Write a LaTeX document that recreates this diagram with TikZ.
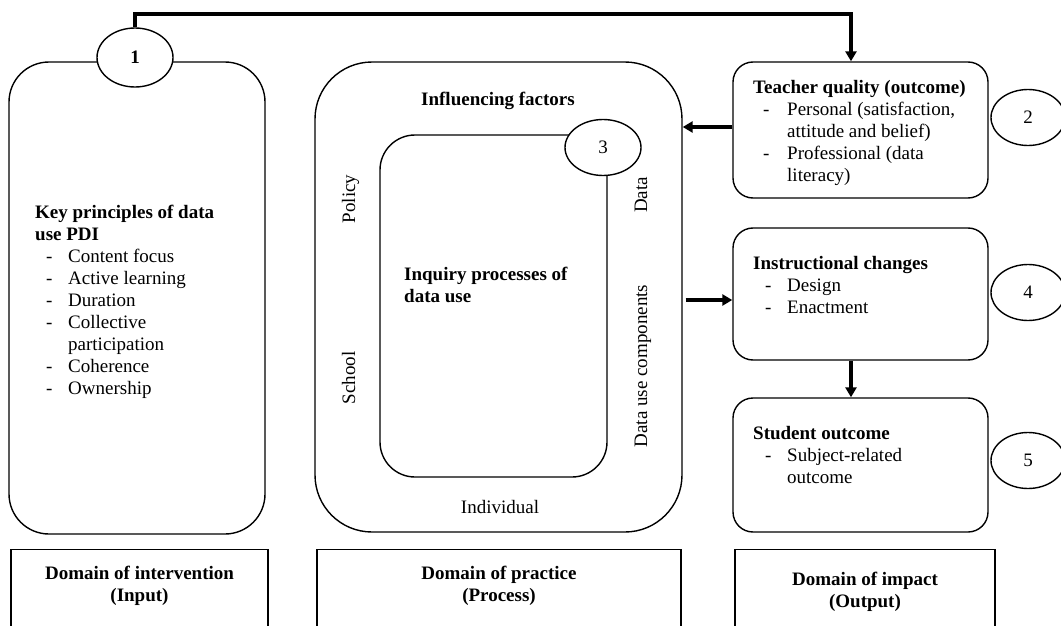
\documentclass[tikz,border=0pt]{standalone}
\usepackage{fontspec}
\setmainfont{Liberation Serif}
\usetikzlibrary{arrows.meta,shapes.geometric}
\newcommand{\lidash}{\makebox[33pt][l]{\hspace*{11pt}-}}
\newcommand{\lihang}{\hspace*{33pt}}
\begin{document}
\begin{tikzpicture}[x=1pt,y=-1pt,
  box/.style={draw, line width=1.4pt, rounded corners=#1, inner sep=0pt},
  sqbox/.style={draw, line width=1.4pt, inner sep=0pt, anchor=north, minimum height=110pt},
  num/.style={ellipse, draw, fill=white, line width=1.4pt, inner sep=0pt,
              minimum width=76pt, minimum height=56pt, font=\fontsize{19}{22}\selectfont},
  txt/.style={font=\fontsize{19}{22}\selectfont, inner sep=0pt, align=left},
  ctxt/.style={font=\fontsize{19}{22}\selectfont, inner sep=0pt, align=center},
  rtxt/.style={font=\fontsize{19}{22}\selectfont, inner sep=0pt, rotate=90, anchor=base},
  thickarrow/.style={line width=3.2pt, -{Triangle[length=10pt,width=11pt]}}
]
\useasboundingbox (0,0) rectangle (1061,626);

% main boxes
\node[box=40pt, minimum width=256pt, minimum height=472pt] (left) at (137,298) {};
\node[box=57pt, minimum width=367pt, minimum height=470pt] (outer) at (498.5,297) {};
\node[box=35pt, minimum width=227pt, minimum height=342pt] (inner) at (493.5,306) {};
\node[box=20pt, minimum width=255pt, minimum height=136pt] (teacher) at (860.5,130) {};
\node[box=20pt, minimum width=255pt, minimum height=132pt] (instr) at (860.5,294) {};
\node[box=20pt, minimum width=255pt, minimum height=134pt] (student) at (860.5,465) {};

% bottom domain boxes (open at the bottom edge)
\node[sqbox, minimum width=257pt] (dom1) at (139.5,549) {};
\node[sqbox, minimum width=364pt] (dom2) at (499,549) {};
\node[sqbox, minimum width=260pt] (dom3) at (865,549) {};

% numbered ellipses
\node[num, minimum height=59pt] (c1) at (135,57.5) {\textbf{1}};
\node[num, minimum width=74pt] (c2) at (1028,117.5) {2};
\node[num] (c3) at (603,147.5) {3};
\node[num, minimum width=74pt] (c4) at (1028,292.5) {4};
\node[num, minimum width=74pt] (c5) at (1028,460.5) {5};

% texts (anchor base = baseline of the last line)
\node[txt, anchor=base west] (kp) at (35,394)
 {\textbf{Key principles of data}\\\textbf{use PDI}\\
  \lidash Content focus\\ \lidash Active learning\\ \lidash Duration\\
  \lidash Collective\\ \lihang participation\\ \lidash Coherence\\ \lidash Ownership};

\node[ctxt, anchor=base] (inf) at (498,106) {\textbf{Influencing factors}};
\node[txt, anchor=base west] (inq) at (404,302) {\textbf{Inquiry processes of}\\\textbf{data use}};
\node[ctxt, anchor=base] (ind) at (500,513) {Individual};
\node[rtxt] (pol) at (355,199) {Policy};
\node[rtxt] (sch) at (355,378) {School};
\node[rtxt] (dat) at (647,195) {Data};
\node[rtxt] (duc) at (647,366) {Data use components};

\node[txt, anchor=base west] (tq) at (753,181)
 {\textbf{Teacher quality (outcome)}\\
  \makebox[34pt][l]{\hspace*{10pt}-}Personal (satisfaction,\\
  \hspace*{34pt}attitude and belief)\\
  \makebox[34pt][l]{\hspace*{10pt}-}Professional (data\\
  \hspace*{34pt}literacy)};
\node[txt, anchor=base west] (ic) at (753,313)
 {\textbf{Instructional changes}\\
  \makebox[34pt][l]{\hspace*{12pt}-}Design\\
  \makebox[34pt][l]{\hspace*{12pt}-}Enactment};
\node[txt, anchor=base west] (so) at (753,483)
 {\textbf{Student outcome}\\
  \makebox[34pt][l]{\hspace*{12pt}-}Subject-related\\
  \hspace*{34pt}outcome};

\node[ctxt, anchor=base] (d1t) at (139.5,601) {\textbf{Domain of intervention}\\\textbf{(Input)}};
\node[ctxt, anchor=base] (d2t) at (499,601) {\textbf{Domain of practice}\\\textbf{(Process)}};
\node[ctxt, anchor=base] (d3t) at (865,607) {\textbf{Domain of impact}\\\textbf{(Output)}};

% connectors
\coordinate (tc) at (851,14);
\draw[thickarrow] (c1.north) |- (tc) -- (tc |- teacher.north);
\draw[thickarrow] ([yshift=3pt]teacher.west) -- ([yshift=3pt]teacher.west -| outer.east);
\draw[thickarrow] ([yshift=-6pt,xshift=3pt]outer.east |- instr.west) -- ([yshift=-6pt]instr.west);
\draw[thickarrow] ([xshift=-9.5pt]instr.south) -- ([xshift=-9.5pt]student.north);
\end{tikzpicture}
\end{document}
